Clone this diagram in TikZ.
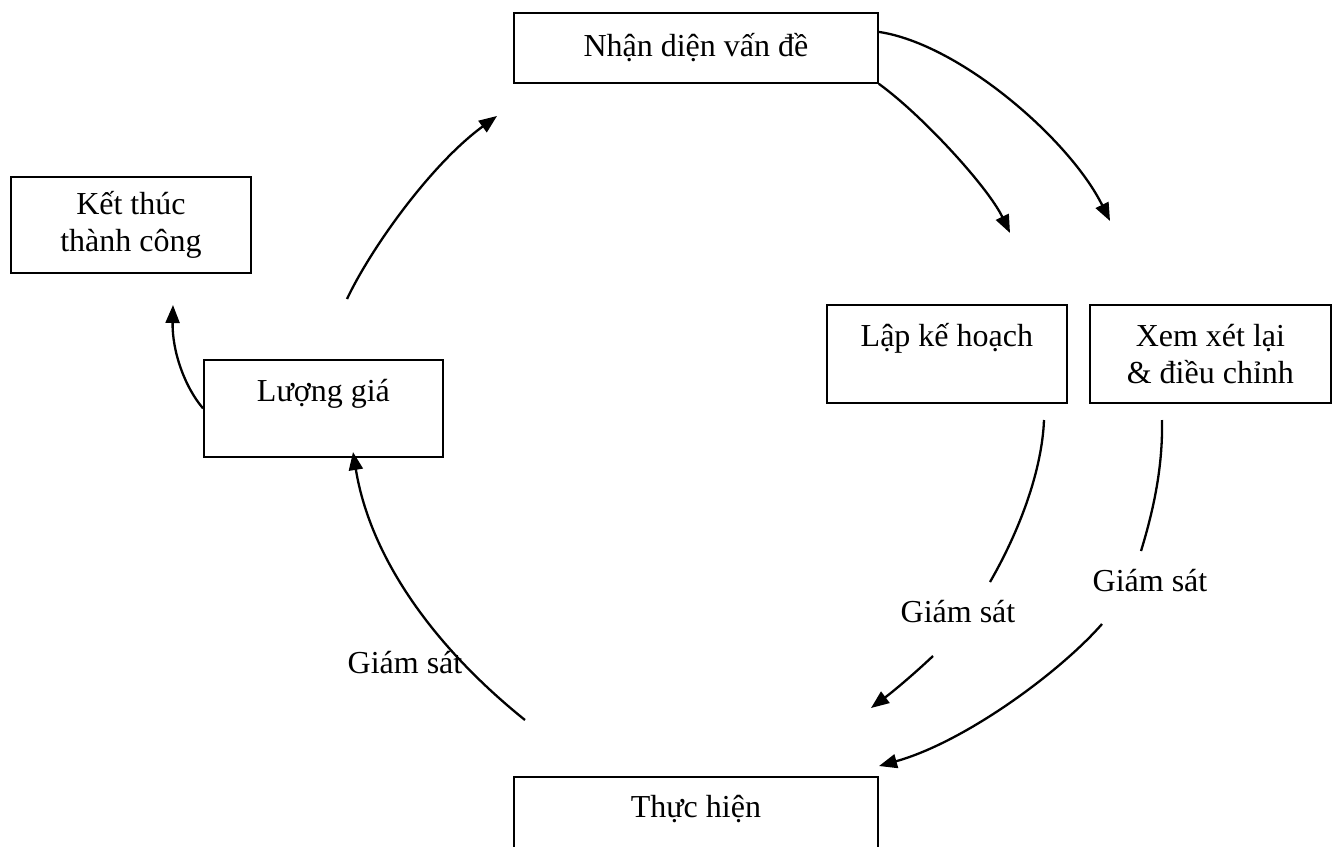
\documentclass[tikz,border=0pt]{standalone}
\usepackage{fontspec}
\setmainfont{Liberation Serif}
\usetikzlibrary{arrows.meta}
\begin{document}
\begin{tikzpicture}[x=1pt,y=-1pt,
  box/.style={draw, line width=1.8pt, anchor=north west, inner sep=0pt, align=center, font=\fontsize{32}{37}\selectfont},
  lbl/.style={inner sep=0pt, font=\fontsize{32}{37}\selectfont},
  conn/.style={line width=2.3pt},
  arr/.style={line width=2.3pt, -{Triangle[length=18pt,width=14pt]}}]
\useasboundingbox (0,0) rectangle (1332,846);
\fill[white] (0,0) rectangle (1332,846);
\clip (0,0) rectangle (1332,846);

% boxes
\node[box, minimum width=364pt, minimum height=70pt] (nhan) at (513,12) {Nhận diện vấn đề};
\node[box, minimum width=240pt, minimum height=96pt] (ket) at (10,176) {Kết thúc\\thành công};
\node[box, minimum width=239pt, minimum height=97pt] (luong) at (203,359) {Lượng giá\\\mbox{}};
\node[box, minimum width=240pt, minimum height=98pt] (lap) at (826,304) {Lập kế hoạch\\\mbox{}};
\node[box, minimum width=241pt, minimum height=98pt] (xem) at (1089,304) {Xem xét lại\\\&~điều chỉnh};
\node[box, minimum width=364pt, minimum height=96pt] (thuc) at (513,776) {Thực hiện\\\mbox{}};

% labels
\node[lbl] (g1) at (405,663) {Giám sát};
\node[lbl] (g2) at (958,612) {Giám sát};
\node[lbl] (g3) at (1150,581) {Giám sát};

% free ends
\coordinate (t1) at (1110,221);
\coordinate (t2) at (1010,233);
\coordinate (s3) at (347,299);
\coordinate (t3) at (497,116);
\coordinate (t4) at (173,305);
\coordinate (s5) at (525,720);
\coordinate (t5) at (353,452);
\coordinate (s6) at (1044,420);
\coordinate (e6) at (990,582);
\coordinate (s6b) at (933,656);
\coordinate (t6) at (871,708);
\coordinate (s7) at (1162,420);
\coordinate (e7) at (1141,551);
\coordinate (s7b) at (1102,624);
\coordinate (t7) at (879,766);

% connectors
\draw[arr] ([yshift=16pt]nhan.east) .. controls (960,44) and (1070,140) .. (t1);
\draw[arr] (nhan.south east) .. controls (922,115) and (988,187) .. (t2);
\draw[arr] (s3) .. controls (370,250) and (430,165) .. (t3);
\draw[arr] (luong.west) .. controls (184,386) and (172,350) .. (t4);
\draw[arr] (s5) .. controls (439,651) and (371,562) .. (t5);
\draw[conn] (s6) .. controls (1042,470) and (1020,530) .. (e6);
\draw[arr] (s6b) .. controls (915,673) and (895,690) .. (t6);
\draw[conn] (s7) .. controls (1163,470) and (1152,515) .. (e7);
\draw[arr] (s7b) .. controls (1060,672) and (965,742) .. (t7);
\end{tikzpicture}
\end{document}
